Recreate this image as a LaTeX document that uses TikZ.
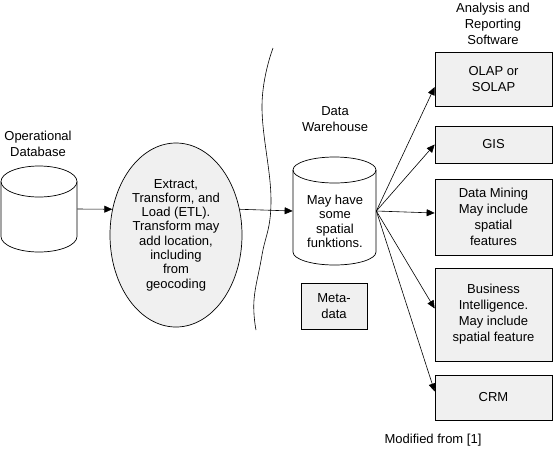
\documentclass[tikz,border=0pt]{standalone}
\usepackage{fontspec}
\setmainfont{Liberation Sans}
\usetikzlibrary{shapes.geometric,arrows.meta}

\begin{document}
\begin{tikzpicture}
[x=1pt, y=-1pt, font=\fontsize{13}{16}\selectfont, line width=0.7pt,
db/.style={rectangle, inner sep=0pt},
etlbox/.style={ellipse, draw, fill=gray!12, inner sep=0pt, minimum width=132pt, minimum height=184pt, align=center, font=\fontsize{13}{14.3}\selectfont},
sw/.style={rectangle, draw, fill=gray!12, inner sep=0pt, minimum width=117pt, align=center},
meta/.style={rectangle, draw, fill=gray!12, inner sep=0pt, minimum width=66pt, minimum height=46pt, align=center},
txt/.style={align=center, inner sep=0pt},
arr/.style={-{Triangle[length=8pt,width=7pt]}, line width=0.6pt}
]
\useasboundingbox (0,0) rectangle (553,448);

% sources
\node[txt] (oplabel) at (38,144) {Operational\\Database};
\node[db, minimum width=76pt, minimum height=86pt] (opdb) at (39,209) {};
\draw (1,181.5) -- (1,236.5) arc[start angle=180, end angle=0, x radius=38, y radius=15.5] -- (77,181.5);
\draw (39,181.5) ellipse[x radius=38, y radius=15.5];
\node[etlbox] (etl) at (176,235) {Extract,\\Transform, and\\Load (ETL).\\Transform may\\add location,\\including\\from\\geocoding};

% border between systems
\draw[line width=0.6pt] plot[smooth, tension=0.7] coordinates {(273,48) (262,105) (271,200) (262,255) (254,300) (256,330)};

% warehouse
\node[txt] (dwlabel) at (335,119.5) {Data\\Warehouse};
\node[db, minimum width=83pt, minimum height=108pt] (dw) at (334.5,211) {};
\draw (293,170) -- (293,252) arc[start angle=180, end angle=0, x radius=41.5, y radius=13] -- (376,170);
\draw (334.5,170) ellipse[x radius=41.5, y radius=13];
\node[txt, font=\fontsize{13}{14.5}\selectfont] (dwtext) at (335,221.5) {May have\\some\\spatial\\funktions.};
\node[meta] (metadata) at (334,306) {Meta-\\data};

% analysis and reporting
\node[txt] (swlabel) at (493,24) {Analysis and\\Reporting\\Software};
\node[sw, minimum height=54pt] (olap) at (493.5,79) {OLAP or\\SOLAP};
\node[sw, minimum height=37pt] (gis) at (493.5,144.5) {GIS};
\node[sw, minimum height=76pt] (mining) at (493.5,217) {Data Mining\\May include\\spatial\\features};
\node[sw, minimum height=93pt] (bi) at (493.5,314.5) {Business\\Intelligence.\\May include\\spatial feature};
\node[sw, minimum height=45pt] (crm) at (493.5,397.5) {CRM};

\node[txt] (source) at (433,440) {Modified from [1]};

\draw[arr] (opdb.east) -- (etl.158);
\draw[arr] (etl.22) -- (dw.west);
\draw[arr] (dw.east) -- ([yshift=-8pt]olap.west);
\draw[arr] (dw.east) -- (gis.west);
\draw[arr] (dw.east) -- ([yshift=4pt]mining.west);
\draw[arr] (dw.east) -- ([yshift=6pt]bi.west);
\draw[arr] (dw.east) -- ([yshift=6pt]crm.west);
\end{tikzpicture}
\end{document}
